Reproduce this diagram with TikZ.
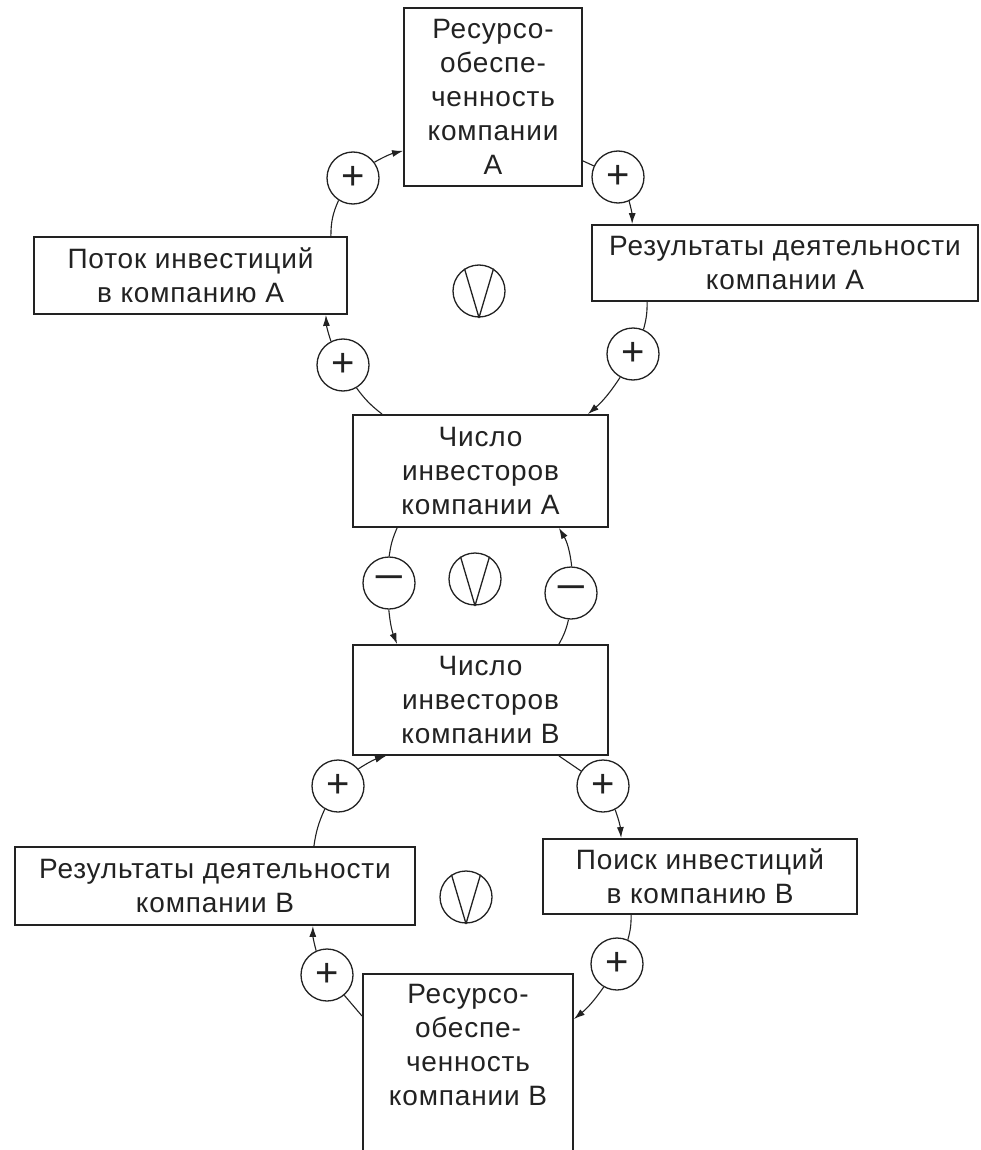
\documentclass[tikz,border=0pt]{standalone}
\usepackage{fontspec}
\usepackage{graphicx}
\setmainfont{Liberation Sans}
\newfontfamily\boxfont[LetterSpace=3]{Liberation Sans}
\usetikzlibrary{arrows.meta}
\definecolor{ink}{HTML}{222222}
\tikzset{
  box/.style={draw=ink, line width=1.8pt, rectangle, align=center, inner sep=0pt,
    text=ink, font=\boxfont\fontsize{28}{34}\selectfont},
  sign/.style={draw=ink, line width=1.3pt, circle, minimum size=52pt, inner sep=0pt,
    text=ink, font=\fontsize{40}{40}\selectfont},
  vsign/.style={draw=ink, line width=1.3pt, circle, minimum size=52pt, inner sep=0pt},
  link/.style={draw=ink, line width=1.1pt},
  arr/.style={link, -{Latex[length=11pt,width=7pt]}},
}
\newcommand{\mns}{\scalebox{1.35}[1]{−}}
\begin{document}
\begin{tikzpicture}[x=1pt,y=1pt]
\useasboundingbox[fill=white] (0,0) rectangle (981,-1150);
% boxes
\node[box, minimum width=178pt, minimum height=178pt] (resA) at (493,-97)
  {Ресурсо-\\обеспе-\\ченность\\компании\\А};
\node[box, minimum width=313pt, minimum height=77pt] (flowA) at (190.5,-275.5)
  {Поток инвестиций\\в компанию А};
\node[box, minimum width=386pt, minimum height=76pt] (resultA) at (785,-263)
  {Результаты деятельности\\компании А};
\node[box, minimum width=255pt, minimum height=112pt] (invA) at (480.5,-471)
  {Число\\инвесторов\\компании А};
\node[box, minimum width=255pt, minimum height=110pt] (invB) at (480.5,-700)
  {Число\\инвесторов\\компании В};
\node[box, minimum width=400pt, minimum height=78pt] (resultB) at (215,-886)
  {Результаты деятельности\\компании В};
\node[box, minimum width=314pt, minimum height=75pt] (search) at (700,-876.5)
  {Поиск инвестиций\\в компанию В};
\node[box, minimum width=210pt, minimum height=180pt] (resB) at (468,-1064)
  {Ресурсо-\\обеспе-\\ченность\\компании В\\[4pt]};
% signs
\node[sign] (sA1) at (353,-178) {+};
\node[sign] (sA2) at (618,-177) {+};
\node[sign] (sA3) at (633,-354) {+};
\node[sign] (sA4) at (343,-365) {+};
\node[sign] (m1) at (389,-583) {\mns};
\node[sign] (m2) at (571,-593) {\mns};
\node[sign] (sB1) at (603,-786) {+};
\node[sign] (sB2) at (617,-964) {+};
\node[sign] (sB3) at (327,-975) {+};
\node[sign] (sB4) at (338,-786) {+};
% V circles
\node[vsign] (vA) at (479,-291) {};
\node[vsign] (vM) at (475,-579) {};
\node[vsign] (vB) at (466,-897) {};
\foreach \v in {vA,vM,vB}
  \draw[link, line width=1.3pt, line join=round] (\v.123) -- (\v.south) -- (\v.57);
% top loop
\draw[link] ([xshift=-17pt]flowA.north east) to[bend left=12] (sA1);
\draw[arr] (sA1) to[bend left=8] ([yshift=36pt]resA.south west);
\draw[link] ([yshift=26pt]resA.south east) -- (sA2);
\draw[arr] (sA2) to[bend left=8] ([xshift=41pt]resultA.north west);
\draw[link] ([xshift=56pt]resultA.south west) to[bend left=8] (sA3);
\draw[arr] (sA3) to[bend left=8] ([xshift=-21pt]invA.north east);
\draw[link] ([xshift=30pt]invA.north west) to[bend left=8] (sA4);
\draw[arr] (sA4) to[bend left=8] ([xshift=-22pt]flowA.south east);
% middle loop
\draw[link] ([xshift=45pt]invA.south west) to[bend right=8] (m1);
\draw[arr] (m1) to[bend right=8] ([xshift=45pt]invB.north west);
\draw[link] ([xshift=-50pt]invB.north east) to[bend right=8] (m2);
\draw[arr] (m2) to[bend right=12] ([xshift=-50pt]invA.south east);
% bottom loop
\draw[link] ([xshift=-50pt]invB.south east) -- (sB1);
\draw[arr] (sB1) to[bend left=8] ([xshift=79pt]search.north west);
\draw[link] ([xshift=89pt]search.south west) to[bend left=8] (sB2);
\draw[arr] (sB2) to[bend left=8] ([yshift=-46pt]resB.north east);
\draw[link] ([yshift=-43pt]resB.north west) -- (sB3);
\draw[arr] (sB3) to[bend left=8] ([xshift=-103pt]resultB.south east);
\draw[link] ([xshift=-102pt]resultB.north east) to[bend left=8] (sB4);
\draw[arr] (sB4) to[bend left=8] ([xshift=34pt]invB.south west);
\end{tikzpicture}
\end{document}
